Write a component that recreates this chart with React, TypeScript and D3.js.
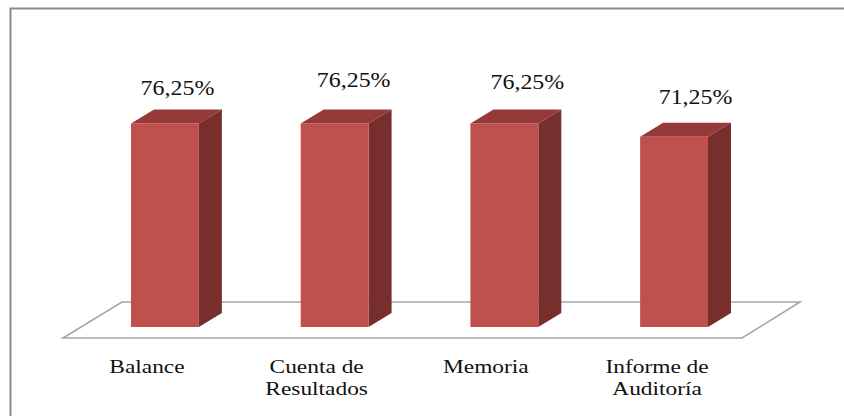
import React from "react";
import * as d3 from "d3";

const categories = ["Balance", "Cuenta de Resultados", "Memoria", "Informe de Auditoría"];
const categoryLines = [["Balance"], ["Cuenta de", "Resultados"], ["Memoria"], ["Informe de", "Auditoría"]];
const percentages = [76.25, 76.25, 76.25, 71.25];
const valueLabels = ["76,25%", "76,25%", "76,25%", "71,25%"];
// Hand-placed data labels, relative to the centre and top of each bar.
const valueLabelNudgeX = [12.5, 19, 23, 21.5];
const valueLabelNudgeY = [-28.5, -36.5, -34.5, -33];
// Category captions sit to the left of their bars.
const captionNudgeX = [-18, -18, -18.5, -17];

const WIDTH = 844;
const HEIGHT = 416;
const DEPTH_X = 23;
const DEPTH_Y = 14;
const FLOOR_FRONT = 338;
const FLOOR_BACK = 302;

const x = d3.scaleBand<string>().domain(categories).range([131, 708]).paddingInner(0.6).paddingOuter(0);
const y = d3.scaleLinear().domain([0, 100]).range([327, 60]);

const polygon = d3.line<[number, number]>().curve(d3.curveLinearClosed);

// Serif text stretched horizontally, as the chart's labels are.
function WideText({ cx, baseline, children, size, stretch }: { cx: number; baseline: number; children: string; size: number; stretch: number }) {
  return (
    <text
      transform={`translate(${cx},${baseline}) scale(${stretch},1)`}
      textAnchor="middle"
      fontFamily="'Liberation Serif', serif"
      fontSize={size}
      fill="#111"
    >
      {children}
    </text>
  );
}

export default function App() {
  const floor: [number, number][] = [
    [63, FLOOR_FRONT],
    [122, FLOOR_BACK],
    [800, FLOOR_BACK],
    [742, FLOOR_FRONT],
  ];
  return (
    <svg
      width={WIDTH}
      height={HEIGHT}
      viewBox={`0 0 ${WIDTH} ${HEIGHT}`}
      style={{ position: "fixed", left: 0, top: 0, background: "#fff" }}
    >
      <rect x={10.5} y={8.5} width={840} height={420} fill="#fff" stroke="#8c8c8c" strokeWidth={2} />
      <path d={polygon(floor) ?? ""} fill="#fff" stroke="#a6a6a6" strokeWidth={1.6} />
      {categories.map((c, i) => {
        const x0 = x(c) ?? 0;
        const x1 = x0 + x.bandwidth();
        const centre = x0 + x.bandwidth() / 2;
        const top = y(percentages[i]);
        const bottom = y(0);
        const roof: [number, number][] = [
          [x0, top],
          [x0 + DEPTH_X, top - DEPTH_Y],
          [x1 + DEPTH_X, top - DEPTH_Y],
          [x1, top],
        ];
        const side: [number, number][] = [
          [x1, top],
          [x1 + DEPTH_X, top - DEPTH_Y],
          [x1 + DEPTH_X, bottom - DEPTH_Y],
          [x1, bottom],
        ];
        return (
          <g key={c}>
            <path d={polygon(roof) ?? ""} fill="#953a38" />
            <path d={polygon(side) ?? ""} fill="#772f2e" />
            <rect x={x0} y={top} width={x.bandwidth()} height={bottom - top} fill="#c0504d" />
            <WideText cx={centre + valueLabelNudgeX[i]} baseline={top + valueLabelNudgeY[i]} size={21} stretch={1.14}>
              {valueLabels[i]}
            </WideText>
            {categoryLines[i].map((line, j) => (
              <WideText key={line} cx={centre + captionNudgeX[i]} baseline={373 + j * 22} size={19.5} stretch={1.2}>
                {line}
              </WideText>
            ))}
          </g>
        );
      })}
    </svg>
  );
}
